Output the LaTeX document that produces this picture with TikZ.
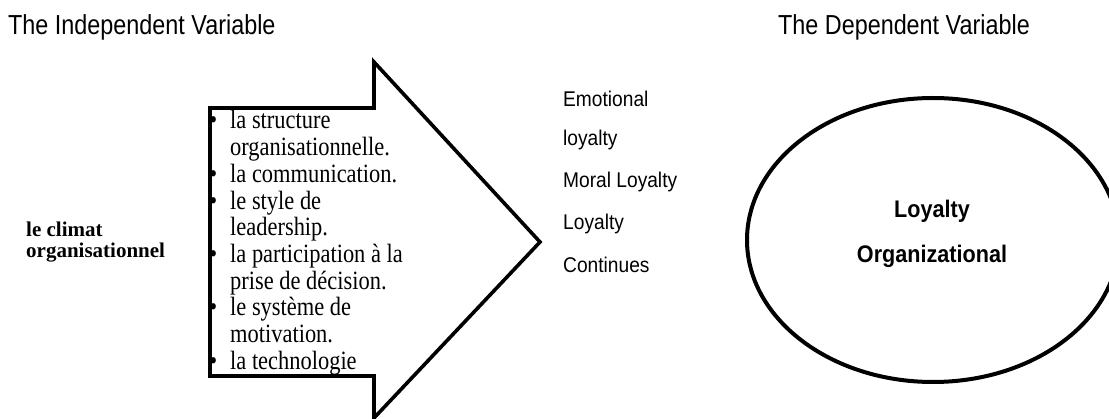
\documentclass[tikz,border=0pt]{standalone}
\usepackage{fontspec}
\setmainfont{Liberation Serif}
\newfontfamily\hdrfont{Liberation Sans}[FakeStretch=0.85]
\newfontfamily\midfont{Liberation Sans}[FakeStretch=0.9]
\newfontfamily\bulfont{Liberation Serif}[FakeStretch=0.85]
\newcommand\blt{\llap{\textbullet\hspace{13pt}}}
\begin{document}
\begin{tikzpicture}[x=1pt,y=-1pt,
  hdr/.style={font=\hdrfont\fontsize{27.5}{30}\selectfont, inner sep=0},
  bul/.style={font=\bulfont\fontsize{26.4}{27}\selectfont, inner sep=0, anchor=base west},
  mid/.style={font=\midfont\fontsize{21.3}{24}\selectfont, inner sep=0, anchor=base west},
  inner/.style={font=\midfont\bfseries\fontsize{24}{26}\selectfont, inner sep=0, anchor=base},
  lft/.style={font=\bfseries\fontsize{21}{22}\selectfont, inner sep=0, anchor=base west},
  shape line/.style={draw=black, line width=3.6pt, line join=miter}]
\useasboundingbox (0,0) rectangle (1109,419);
\fill[white] (0,0) rectangle (1109,419);
% headers
\node[hdr, anchor=base west] (hl) at (8,35) {The Independent Variable};
\node[hdr, anchor=base east] (hr) at (1030,35) {The Dependent Variable};
% big arrow
\draw[shape line] (210,108) -- (374,108) -- (374,62) -- (540,242) -- (374,418) -- (374,376) -- (210,376) -- cycle;
% bullet list
\foreach \t [count=\i] in {{\blt la structure}, organisationnelle., {\blt la communication.}, {\blt le style de}, leadership., {\blt la participation à la}, prise de décision., {\blt le système de}, motivation., {\blt la technologie}}
  \node[bul] (b\i) at (230,{129+(\i-1)*26.7}) {\t};
% left label
\node[lft] (l1) at (26,237) {le climat};
\node[lft] (l2) at (26,258) {organisationnel};
% middle texts
\node[mid] (m1) at (563,107) {Emotional};
\node[mid] (m2) at (563,146) {loyalty};
\node[mid] (m3) at (563,188) {Moral Loyalty};
\node[mid] (m4) at (563,230) {Loyalty};
\node[mid] (m5) at (563,273) {Continues};
% ellipse
\draw[line width=4pt] (933,240) ellipse [x radius=186, y radius=142];
\node[inner] (e1) at (932,218) {Loyalty};
\node[inner] (e2) at (932,263) {Organizational};
\end{tikzpicture}
\end{document}
